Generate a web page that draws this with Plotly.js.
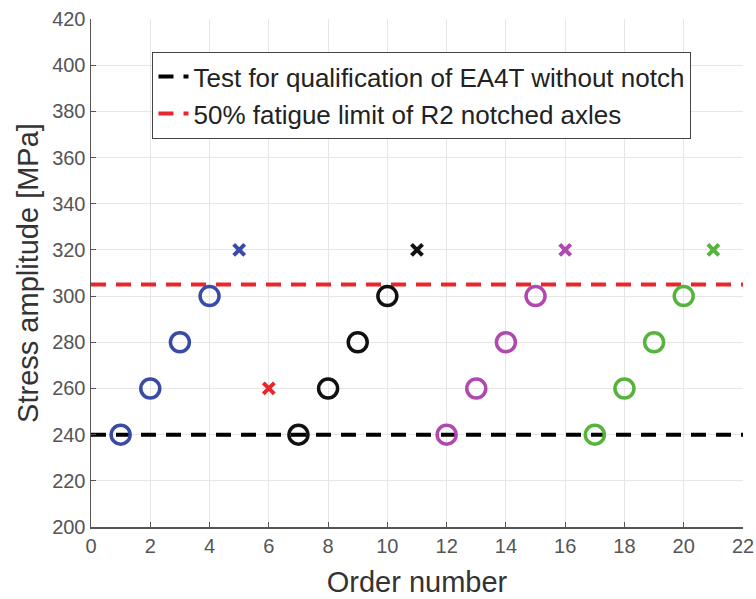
<!DOCTYPE html>
<html>
<head>
<meta charset="utf-8">
<script src="https://cdn.plot.ly/plotly-3.0.1.min.js"></script>
<style>html,body{margin:0;padding:0;background:#fff;}#chart{width:756px;height:599px;}</style>
</head>
<body>
<div id="chart"></div>
<script>
// Data
const blueRunX = [1, 2, 3, 4];
const blueRunY = [240, 260, 280, 300];
const blueFailX = [5];
const blueFailY = [320];
const redFailX = [6];
const redFailY = [260];
const blackRunX = [7, 8, 9, 10];
const blackRunY = [240, 260, 280, 300];
const blackFailX = [11];
const blackFailY = [320];
const magRunX = [12, 13, 14, 15];
const magRunY = [240, 260, 280, 300];
const magFailX = [16];
const magFailY = [320];
const greenRunX = [17, 18, 19, 20];
const greenRunY = [240, 260, 280, 300];
const greenFailX = [21];
const greenFailY = [320];
const lineX = [0, 22];
const qualLevel = [240, 240];
const fatigueLevel = [305, 305];
const legendNames = ["Test for qualification of EA4T without notch", "50% fatigue limit of R2 notched axles"];
const xTicks = [0,2,4,6,8,10,12,14,16,18,20,22];
const yTicks = [200,220,240,260,280,300,320,340,360,380,400,420];

const cBlue = "#3a4ba6", cRed = "#e8262b", cBlack = "#111111", cMag = "#b048b0", cGreen = "#55b43c";

function circles(x, y, col) {
  return {x: x, y: y, type: "scatter", mode: "markers", showlegend: false, hoverinfo: "skip",
    marker: {symbol: "circle-open", size: 19, color: col, line: {width: 3.5, color: col}}};
}
function crosses(x, y, col) {
  return {x: x, y: y, type: "scatter", mode: "markers", showlegend: false, hoverinfo: "skip",
    marker: {symbol: "x-thin-open", size: 11, color: col, line: {width: 4, color: col}}};
}

const traces = [
  {x: lineX, y: qualLevel, type: "scatter", mode: "lines", name: legendNames[0],
   line: {color: "#000000", width: 4, dash: "15px,10px"}},
  {x: lineX, y: fatigueLevel, type: "scatter", mode: "lines", name: legendNames[1],
   line: {color: "#e8262b", width: 4, dash: "15px,10px"}},
  circles(blueRunX, blueRunY, cBlue), crosses(blueFailX, blueFailY, cBlue),
  crosses(redFailX, redFailY, cRed),
  circles(blackRunX, blackRunY, cBlack), crosses(blackFailX, blackFailY, cBlack),
  circles(magRunX, magRunY, cMag), crosses(magFailX, magFailY, cMag),
  circles(greenRunX, greenRunY, cGreen), crosses(greenFailX, greenFailY, cGreen)
];

const layout = {
  width: 756, height: 599,
  margin: {l: 91, r: 13, t: 19, b: 72},
  paper_bgcolor: "#ffffff", plot_bgcolor: "#ffffff",
  font: {family: "Liberation Sans, Arial, sans-serif", color: "#444"},
  xaxis: {
    range: [0, 22], tickvals: xTicks,
    showgrid: true, gridcolor: "#e6e6e6", gridwidth: 1, zeroline: false,
    showline: true, linecolor: "#555", linewidth: 1.5, ticks: "inside", ticklen: 5, tickcolor: "#555",
    tickfont: {size: 20, color: "#555"},
    title: {text: "Order number", font: {size: 29, color: "#333"}, standoff: 16}
  },
  yaxis: {
    range: [200, 420], tickvals: yTicks,
    showgrid: true, gridcolor: "#e6e6e6", gridwidth: 1, zeroline: false,
    showline: true, linecolor: "#555", linewidth: 1.5, ticks: "inside", ticklen: 5, tickcolor: "#555",
    tickfont: {size: 20, color: "#555"},
    title: {text: "Stress amplitude [MPa]", font: {size: 29, color: "#333"}, standoff: 5}
  },
  showlegend: true,
  legend: {x: 0.094, y: 0.935, xanchor: "left", yanchor: "top",
    bgcolor: "#ffffff", bordercolor: "#444", borderwidth: 1.2,
    font: {size: 26, color: "#222"}, tracegroupgap: 0}
};

Plotly.newPlot("chart", traces, layout, {displayModeBar: false, staticPlot: true});
</script>
</body>
</html>
